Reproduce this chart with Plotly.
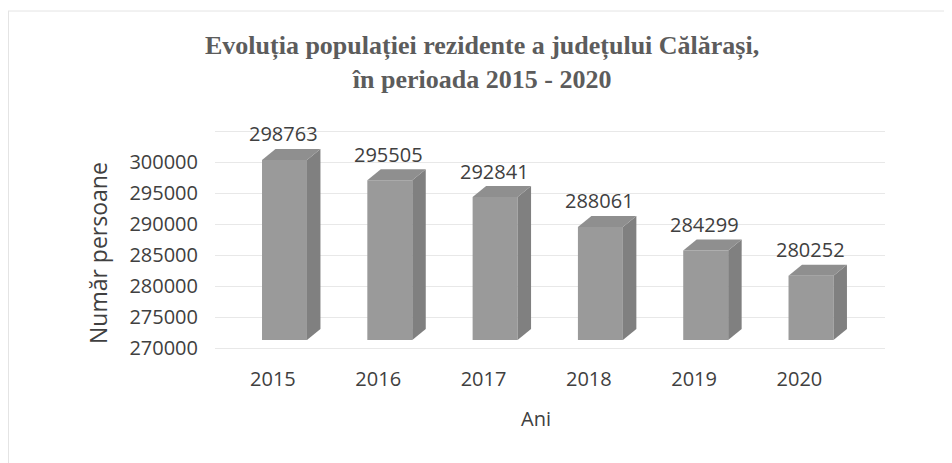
import plotly.graph_objects as go

years = ["2015", "2016", "2017", "2018", "2019", "2020"]
values = [298763, 295505, 292841, 288061, 284299, 280252]
base_value = 270000
tick_values = [270000, 275000, 280000, 285000, 290000, 295000, 300000, 305000]
tick_text = ["270000", "275000", "280000", "285000", "290000", "295000", "300000", ""]

title_text = "<b>Evoluția populației rezidente a județului Călărași,<br>în perioada 2015 - 2020</b>"
x_title = "Ani"
y_title = "Număr persoane"

# styling / geometry constants (page pixel coords; figure sits at page offset OFF)
OFF = 8
W, H = 952 - OFF, 463 - OFF
L, R, T, B = 215 - OFF, 885 - OFF, 125 - OFF, 355 - OFF
bar_w = 0.427
dx = 0.128          # depth in category units
dy = 1760           # depth in value units
front_c = "#9a9a9a"
side_c = "#808080"
top_c = "#8f8f8f"
text_c = "#404040"
font_fam = "Open Sans, Liberation Sans, sans-serif"

xs = list(range(len(years)))

fig = go.Figure()

fig.add_trace(go.Bar(
    x=xs, y=[v - base_value for v in values], base=base_value,
    width=bar_w, marker=dict(color=front_c, line=dict(width=0)),
    hoverinfo="skip", showlegend=False, xaxis="x", yaxis="y",
))

for i, v in zip(xs, values):
    xr = i + bar_w / 2
    xl = i - bar_w / 2
    fig.add_trace(go.Scatter(
        x=[xr, xr + dx, xr + dx, xr, xr],
        y=[base_value, base_value + dy, v + dy, v, base_value],
        fill="toself", fillcolor=side_c, mode="lines",
        line=dict(width=0, color=side_c), hoverinfo="skip", showlegend=False,
        xaxis="x", yaxis="y",
    ))
    fig.add_trace(go.Scatter(
        x=[xl, xl + dx, xr + dx, xr, xl],
        y=[v, v + dy, v + dy, v, v],
        fill="toself", fillcolor=top_c, mode="lines",
        line=dict(width=0, color=top_c), hoverinfo="skip", showlegend=False,
        xaxis="x", yaxis="y",
    ))

fig.add_trace(go.Scatter(x=[xs[0]], y=[tick_values[0]], mode="markers",
                         marker=dict(opacity=0), hoverinfo="skip",
                         showlegend=False, xaxis="x", yaxis="y2"))

annotations = []
for i, v in zip(xs, values):
    annotations.append(dict(
        x=i, y=v, xref="x", yref="y", text=f"{v}", showarrow=False,
        yshift=26, xshift=-1, yanchor="middle", xanchor="center",
        font=dict(family=font_fam, size=20, color=text_c),
    ))

pw, ph = R - L, B - T

def px_x(p):
    return (p - OFF - L) / pw

def px_y(p):
    return (B - (p - OFF)) / ph

annotations.append(dict(
    x=px_x(536), y=px_y(418), xref="paper", yref="paper",
    text=x_title, showarrow=False, xanchor="center", yanchor="middle",
    font=dict(family=font_fam, size=20, color=text_c),
))
annotations.append(dict(
    x=px_x(98), y=px_y(253), xref="paper", yref="paper",
    text=y_title, showarrow=False, xanchor="center", yanchor="middle",
    textangle=-90, font=dict(family=font_fam, size=23, color=text_c),
))
annotations.append(dict(
    x=px_x(482), y=px_y(62), xref="paper", yref="paper",
    text=title_text, showarrow=False, xanchor="center", yanchor="middle",
    font=dict(family="Liberation Serif, Times New Roman, serif", size=26,
              color="#5c5c5c"),
))

front_scale = (340 - 152.2) / 30000
ymin = base_value - (B + OFF - 340) / front_scale
ymax = base_value + (340 - (T + OFF)) / front_scale
lab_scale = (348 - 162) / 30000
y2min = base_value - (B + OFF - 348) / lab_scale
y2max = base_value + (348 - (T + OFF)) / lab_scale

xmin = 0 - (284.5 - (L + OFF)) / 105.3
xmax = 0 + ((R + OFF) - 284.5) / 105.3

fig.update_layout(
    width=W, height=H,
    margin=dict(l=L, r=W - R, t=T, b=H - B, pad=0),
    paper_bgcolor="white", plot_bgcolor="white",
    barmode="overlay",
    xaxis=dict(range=[xmin, xmax], tickmode="array",
               tickvals=[i - 0.11 for i in xs], ticktext=years,
               showgrid=False, zeroline=False, showline=False,
               ticks="", ticklabelstandoff=10,
               tickfont=dict(family=font_fam, size=20, color=text_c)),
    yaxis=dict(range=[ymin, ymax], showgrid=False, zeroline=False,
               showticklabels=False, showline=False),
    yaxis2=dict(range=[y2min, y2max], overlaying="y", side="left",
                tickmode="array", tickvals=tick_values, ticktext=tick_text,
                showgrid=True, gridcolor="#e8e8e8", gridwidth=1,
                zeroline=False, showline=False, ticks="",
                ticklabelstandoff=16, layer="below traces",
                tickfont=dict(family=font_fam, size=20, color=text_c)),
    annotations=annotations,
    shapes=[
        dict(type="line", xref="paper", yref="paper",
             x0=px_x(8.5), x1=px_x(8.5), y0=px_y(11), y1=px_y(463),
             line=dict(color="#e4e4e4", width=1)),
        dict(type="line", xref="paper", yref="paper",
             x0=px_x(8), x1=px_x(952), y0=px_y(11), y1=px_y(11),
             line=dict(color="#e4e4e4", width=1)),
    ],
)

fig.write_html("out.html")
